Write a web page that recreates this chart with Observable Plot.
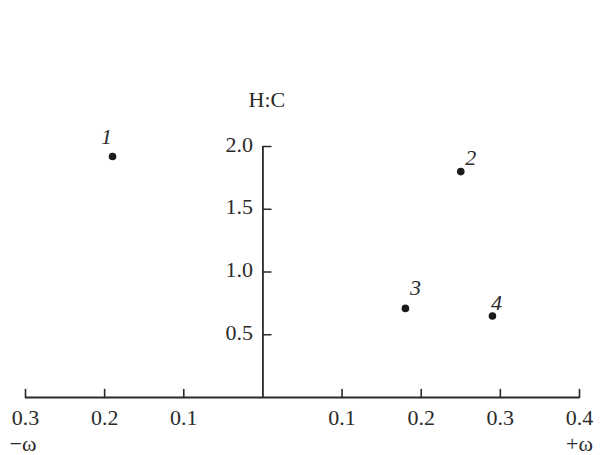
<!DOCTYPE html>
<html>
<head>
<meta charset="utf-8">
<script src="https://cdn.jsdelivr.net/npm/d3@7"></script>
<script src="https://cdn.jsdelivr.net/npm/@observablehq/plot@0.6"></script>
<style>
  html, body { margin: 0; padding: 0; background: #fff; }
  svg text { font-family: "Liberation Serif", "Times New Roman", serif; }
</style>
</head>
<body>
<div id="chart"></div>
<script>
// Data
const pointLabels = ["1", "2", "3", "4"];
const omegaValues = [-0.19, 0.25, 0.18, 0.29];
const hcValues = [1.92, 1.80, 0.71, 0.65];

const xTickValues = [-0.3, -0.2, -0.1, 0.1, 0.2, 0.3, 0.4];
const xTickLabels = ["0.3", "0.2", "0.1", "0.1", "0.2", "0.3", "0.4"];
const yTickValues = [0.5, 1.0, 1.5, 2.0];
const yTickLabels = ["0.5", "1.0", "1.5", "2.0"];

const points = pointLabels.map((l, i) => ({label: l, x: omegaValues[i], y: hcValues[i]}));
const xTicks = xTickValues.map((v, i) => ({v, label: xTickLabels[i]}));
const yTicks = yTickValues.map((v, i) => ({v, label: yTickLabels[i]}));

// label offsets (style)
const labelOffset = {"1": [-6, -20], "2": [10, -14], "3": [10, -20], "4": [4, -13]};

const ink = "#2a2a2a";
const font = "Liberation Serif";
const tickShape = {draw(context, l) { context.moveTo(0, 0); context.lineTo(0, -l); }};
const txt = {fill: ink, fontSize: 22, fontFamily: font, lineAnchor: "middle"};

const chart = Plot.plot({
  width: 601,
  height: 455,
  marginLeft: 25,
  marginRight: 22,
  marginTop: 146,
  marginBottom: 58,
  x: {domain: [-0.3, 0.4], axis: null},
  y: {domain: [0, 2], axis: null},
  style: {fontFamily: font, fontSize: "22px", color: ink, background: "#fff", overflow: "visible"},
  marks: [
    // axis lines
    Plot.ruleY([0], {x1: -0.3, x2: 0.4, stroke: ink, strokeWidth: 1.8}),
    Plot.ruleX([0], {y1: 0, y2: 2, stroke: ink, strokeWidth: 1.8}),
    // x ticks (pointing up)
    Plot.vector(xTicks, {x: "v", y: 0, length: 8, rotate: 0, anchor: "start", shape: tickShape, stroke: ink, strokeWidth: 1.6}),
    // y ticks (pointing right)
    Plot.vector(yTicks, {x: 0, y: "v", length: 8, rotate: 90, anchor: "start", shape: tickShape, stroke: ink, strokeWidth: 1.6}),
    // x tick labels
    Plot.text(xTicks, {x: "v", y: 0, text: "label", dy: 20, ...txt}),
    // y tick labels
    Plot.text(yTicks, {x: 0, y: "v", text: "label", dx: -10, dy: -2, textAnchor: "end", ...txt}),
    // axis titles
    Plot.text(["H:C"], {x: 0, y: 2, text: d => d, dx: 4, dy: -47, ...txt}),
    Plot.text(["−ω"], {x: -0.3, y: 0, text: d => d, dx: -16, dy: 46, textAnchor: "start", ...txt}),
    Plot.text(["+ω"], {x: 0.4, y: 0, text: d => d, dx: 0, dy: 46, ...txt}),
    // points
    Plot.dot(points, {x: "x", y: "y", r: 3.8, fill: "#1a1a1a", stroke: "none"}),
    // point labels
    ...pointLabels.map(l => Plot.text(points.filter(p => p.label === l), {
      x: "x", y: "y", text: "label",
      dx: labelOffset[l][0], dy: labelOffset[l][1],
      fontStyle: "italic", ...txt
    }))
  ]
});

document.getElementById("chart").appendChild(chart);
</script>
</body>
</html>
